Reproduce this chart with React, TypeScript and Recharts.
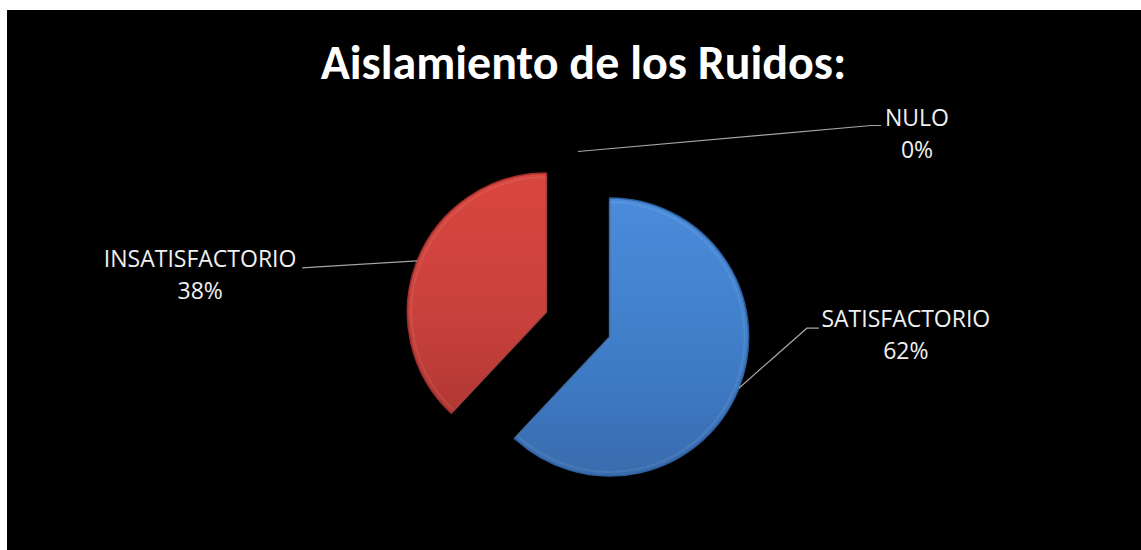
import React from "react";
import { PieChart, Pie, Cell, Sector } from "recharts";

const CATEGORIES = ["SATISFACTORIO", "INSATISFACTORIO", "NULO"];
const VALUES = [62, 38, 0];
const COLORS = ["url(#gradBlue)", "url(#gradRed)", "#9bbb59"];
const EDGE = ["#2f5f9e", "#9c2f2b", "#71893f"];

const chartData = CATEGORIES.map((name, i) => ({ name, value: VALUES[i] }));

// label placement, relative to the point where the leader line touches the slice
const LABEL_LAYOUT = [
  { elbow: [68, -60], end: [80, -60], text: [167, -61] },
  { elbow: [-115, 7], end: [-115, 7], text: [-217, 6] },
  { elbow: [293, -26], end: [303, -26], text: [339, -26] },
];

const EXPLODE = 34;
const RADIAN = Math.PI / 180;
const LABEL_FONT = "'Open Sans', sans-serif";
const TITLE_FONT = "Calibri, Carlito, Lato, sans-serif";

const ExplodedSector = (props: any) => {
  const { cx, cy, midAngle, startAngle, endAngle, outerRadius, fill, index } = props;
  if (Math.abs(endAngle - startAngle) < 0.01) return null;
  const x = cx + EXPLODE * Math.cos(-midAngle * RADIAN);
  const y = cy + EXPLODE * Math.sin(-midAngle * RADIAN);
  return (
    <g>
      <Sector
        cx={x}
        cy={y}
        innerRadius={0}
        outerRadius={outerRadius}
        startAngle={startAngle}
        endAngle={endAngle}
        fill={fill}
        stroke={EDGE[index % EDGE.length]}
        strokeWidth={1.5}
        strokeLinejoin="round"
      />
      <Sector
        cx={x}
        cy={y}
        innerRadius={0}
        outerRadius={outerRadius - 4}
        startAngle={startAngle}
        endAngle={endAngle}
        fill="none"
        stroke="rgba(255,255,255,0.08)"
        strokeWidth={2}
      />
    </g>
  );
};

const renderLabel = (props: any) => {
  const { cx, cy, midAngle, outerRadius, index, name, percent } = props;
  const dist = outerRadius + EXPLODE;
  const ax = cx + dist * Math.cos(-midAngle * RADIAN);
  const ay = cy + dist * Math.sin(-midAngle * RADIAN);
  const lay = LABEL_LAYOUT[index];
  const pts = [
    [ax, ay],
    [ax + lay.elbow[0], ay + lay.elbow[1]],
    [ax + lay.end[0], ay + lay.end[1]],
  ];
  const tx = ax + lay.text[0];
  const ty = ay + lay.text[1];
  return (
    <g key={`lbl-${index}`}>
      <polyline
        points={pts.map((p) => p.join(",")).join(" ")}
        fill="none"
        stroke="#a6a6a6"
        strokeWidth={1.2}
      />
      <text x={tx} y={ty} textAnchor="middle" fill="#f0f0f0" fontSize={23} fontFamily={LABEL_FONT}>
        {name}
      </text>
      <text x={tx} y={ty + 32} textAnchor="middle" fill="#f0f0f0" fontSize={23} fontFamily={LABEL_FONT}>
        {Math.round(percent * 100)}%
      </text>
    </g>
  );
};

export default function App() {
  return (
    <div
      style={{
        position: "fixed",
        left: 7,
        top: 10,
        width: 1134,
        height: 540,
        background: "#000",
        overflow: "hidden",
      }}
    >
      <svg width={0} height={0} style={{ position: "absolute" }}>
        <defs>
          <linearGradient id="gradBlue" x1="0" y1="0" x2="0" y2="1">
            <stop offset="0%" stopColor="#4a8cdb" />
            <stop offset="60%" stopColor="#3f7cc7" />
            <stop offset="100%" stopColor="#386cad" />
          </linearGradient>
          <linearGradient id="gradRed" x1="0" y1="0" x2="0" y2="1">
            <stop offset="0%" stopColor="#d9463f" />
            <stop offset="60%" stopColor="#c9413c" />
            <stop offset="100%" stopColor="#b13733" />
          </linearGradient>
        </defs>
      </svg>
      <div
        style={{
          position: "absolute",
          left: 0,
          width: 1153,
          top: 26,
          textAlign: "center",
          color: "#fff",
          fontFamily: TITLE_FONT,
          fontWeight: 700,
          fontSize: 48,
          lineHeight: "54px",
        }}
      >
        Aislamiento de los Ruidos:
      </div>
      <PieChart width={1134} height={540} margin={{ top: 0, right: 0, bottom: 0, left: 0 }}>
        <Pie
          data={chartData}
          dataKey="value"
          nameKey="name"
          cx={571}
          cy={314.5}
          innerRadius={0}
          outerRadius={139}
          startAngle={90}
          endAngle={-270}
          stroke="none"
          isAnimationActive={false}
          shape={ExplodedSector}
          activeShape={ExplodedSector}
          inactiveShape={ExplodedSector}
          label={renderLabel}
          labelLine={false}
        >
          {chartData.map((_, i) => (
            <Cell key={i} fill={COLORS[i % COLORS.length]} />
          ))}
        </Pie>
      </PieChart>
    </div>
  );
}
